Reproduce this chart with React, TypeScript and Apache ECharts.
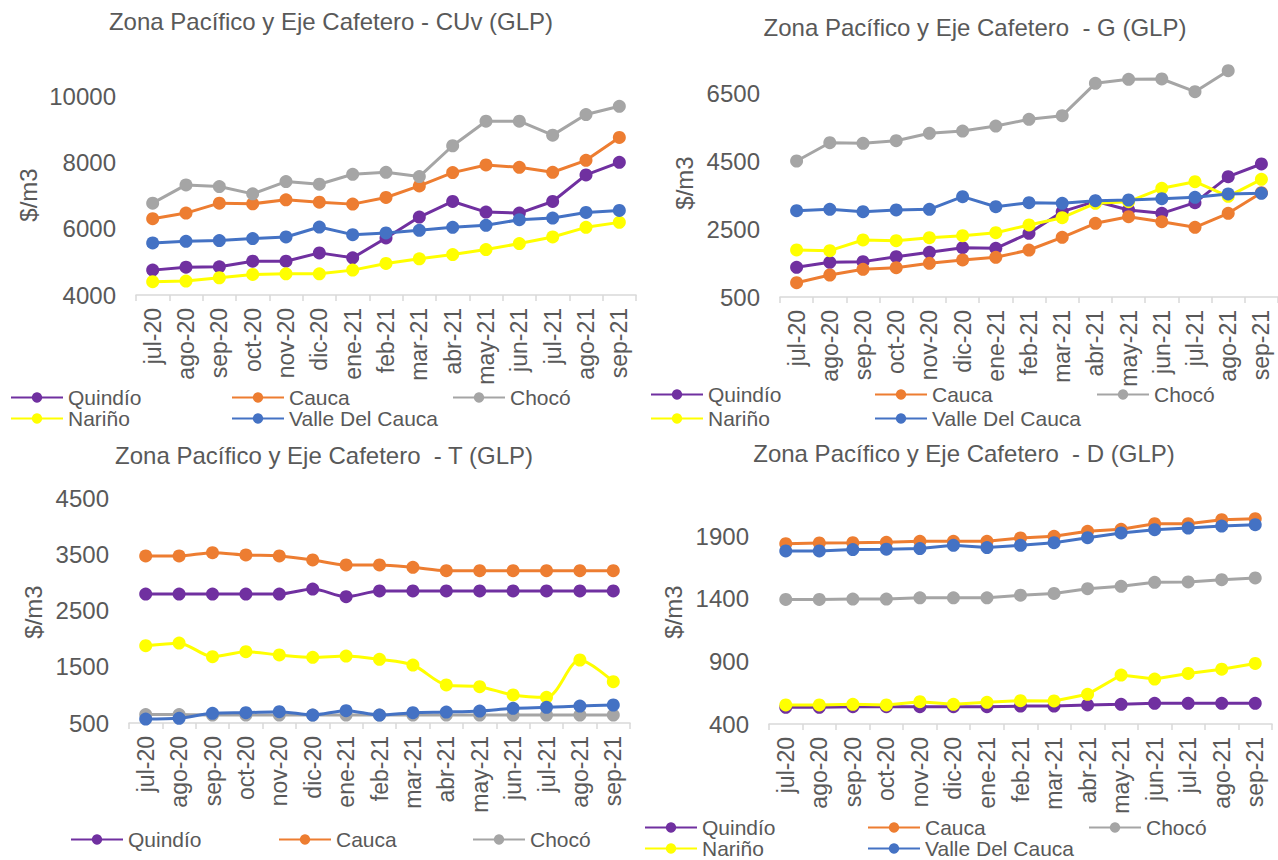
import React, { useEffect, useRef } from "react";
import * as echarts from "echarts";

const categories = ["jul-20", "ago-20", "sep-20", "oct-20", "nov-20", "dic-20", "ene-21", "feb-21", "mar-21", "abr-21", "may-21", "jun-21", "jul-21", "ago-21", "sep-21"];
const seriesNames = ["Quindío", "Cauca", "Chocó", "Nariño", "Valle Del Cauca"];
const seriesColors = ["#7030A0", "#ED7D31", "#A5A5A5", "#FFFF00", "#4472C4"];

// Panel 1: CUv
const cuvQuindio = [4750, 4840, 4850, 5020, 5020, 5270, 5120, 5720, 6350, 6820, 6500, 6470, 6820, 7620, 8000];
const cuvCauca = [6300, 6470, 6770, 6750, 6870, 6800, 6740, 6940, 7290, 7690, 7920, 7850, 7700, 8060, 8750];
const cuvChoco = [6770, 7320, 7270, 7050, 7420, 7340, 7640, 7700, 7570, 8500, 9240, 9240, 8820, 9440, 9690];
const cuvNarino = [4400, 4420, 4520, 4620, 4640, 4640, 4750, 4950, 5090, 5220, 5370, 5550, 5750, 6040, 6190];
const cuvValle = [5570, 5620, 5640, 5700, 5750, 6050, 5820, 5870, 5950, 6040, 6100, 6270, 6320, 6490, 6550];

// Panel 2: G
const gQuindio = [1373, 1520, 1540, 1686, 1814, 1951, 1932, 2374, 3010, 3314, 3059, 2961, 3274, 4040, 4412];
const gCauca = [921, 1147, 1314, 1363, 1491, 1589, 1668, 1882, 2256, 2667, 2862, 2715, 2550, 2961, 3569];
const gChoco = [4500, 5038, 5020, 5097, 5314, 5382, 5529, 5726, 5833, 6785, 6902, 6912, 6539, 7156, null];
const gNarino = [1883, 1863, 2177, 2157, 2245, 2304, 2392, 2618, 2833, 3255, 3304, 3696, 3892, 3461, 3961];
const gValle = [3039, 3079, 3010, 3059, 3079, 3451, 3156, 3274, 3255, 3333, 3353, 3392, 3432, 3530, 3550];

// Panel 3: T
const tQuindio = [2793, 2793, 2793, 2793, 2793, 2882, 2745, 2847, 2847, 2847, 2847, 2847, 2847, 2847, 2847];
const tCauca = [3469, 3469, 3528, 3487, 3469, 3398, 3309, 3309, 3268, 3208, 3208, 3208, 3208, 3208, 3208];
const tChoco = [650, 650, 642, 642, 642, 642, 642, 642, 642, 642, 642, 642, 642, 642, 642];
const tNarino = [1875, 1920, 1679, 1767, 1709, 1667, 1691, 1632, 1531, 1176, 1146, 998, 957, 1620, 1234];
const tValle = [571, 583, 672, 683, 701, 642, 719, 642, 683, 695, 713, 761, 779, 802, 820];

// Panel 4: D
const dQuindio = [533, 533, 538, 538, 538, 538, 538, 543, 543, 552, 557, 565, 565, 565, 565];
const dCauca = [1841, 1847, 1849, 1852, 1860, 1860, 1860, 1887, 1900, 1940, 1956, 2001, 2001, 2033, 2041];
const dChoco = [1395, 1395, 1398, 1398, 1408, 1408, 1408, 1429, 1443, 1481, 1500, 1532, 1535, 1553, 1567];
const dNarino = [552, 552, 557, 552, 578, 557, 573, 586, 584, 637, 791, 759, 804, 838, 884];
const dValle = [1783, 1783, 1794, 1797, 1802, 1828, 1810, 1828, 1849, 1889, 1927, 1953, 1966, 1982, 1993];

const panelTitles = [
  "Zona Pacífico y Eje Cafetero - CUv (GLP)",
  "Zona Pacífico y Eje Cafetero  - G (GLP)",
  "Zona Pacífico y Eje Cafetero  - T (GLP)",
  "Zona Pacífico y Eje Cafetero  - D (GLP)",
];
const yAxisName = "$/m3";
const yMins = [4000, 500, 500, 400];
const yMaxs = [10000, 7500, 4500, 2150];
const yIntervals = [2000, 2000, 1000, 500];

const panelData = [
  [cuvQuindio, cuvCauca, cuvChoco, cuvNarino, cuvValle],
  [gQuindio, gCauca, gChoco, gNarino, gValle],
  [tQuindio, tCauca, tChoco, tNarino, tValle],
  [dQuindio, dCauca, dChoco, dNarino, dValle],
];

const FONT = "'Liberation Sans', Arial, sans-serif";
const TEXT = "#595959";

const grids = [
  { left: 136, top: 96, width: 500, height: 199 },
  { left: 780, top: 59, width: 498, height: 238 },
  { left: 129, top: 498, width: 501, height: 225 },
  { left: 769, top: 505, width: 503, height: 219 },
];
const titlePos = [
  [331, 21],
  [975, 27],
  [324, 455],
  [964, 453],
];
const axisNamePos = [
  [28, 195],
  [684, 183],
  [33, 612],
  [673, 612],
];
// legend layouts: [seriesIndex, left, centerY]
const legendLayouts = [
  [[0, 10, 397], [1, 231, 397], [2, 452, 397], [3, 10, 418], [4, 231, 418]],
  [[0, 650, 394], [1, 874, 394], [2, 1096, 394], [3, 650, 418], [4, 874, 418]],
  [[0, 70, 839], [1, 278, 839], [2, 472, 839]],
  [[0, 644, 827], [1, 867, 827], [2, 1088, 827], [3, 644, 848], [4, 867, 848]],
];

export default function App() {
  const ref = useRef<HTMLDivElement>(null);
  useEffect(() => {
    if (!ref.current) return;
    const chart = echarts.init(ref.current, null, { renderer: "svg" });

    const xAxis = grids.map((_, i) => ({
      type: "category",
      gridIndex: i,
      data: categories,
      boundaryGap: true,
      axisLine: { show: true, lineStyle: { color: "#D9D9D9", width: 1.5 } },
      axisTick: { show: true, length: 6, interval: 0, lineStyle: { color: "#D9D9D9", width: 1.5 } },
      axisLabel: { interval: 0, rotate: 90, fontSize: 23, color: TEXT, fontFamily: FONT, margin: 13 },
      splitLine: { show: false },
    }));

    const yAxis = grids.map((_, i) => ({
      type: "value",
      gridIndex: i,
      min: yMins[i],
      max: yMaxs[i],
      interval: yIntervals[i],
      axisLine: { show: false },
      axisTick: { show: false },
      splitLine: { show: false },
      axisLabel: {
        fontSize: 24,
        color: TEXT,
        fontFamily: FONT,
        margin: 20,
        formatter: (v: number) => ((v - yMins[i]) % yIntervals[i] === 0 ? String(v) : ""),
      },
    }));

    const series: any[] = [];
    panelData.forEach((lines, p) => {
      lines.forEach((vals, s) => {
        series.push({
          type: "line",
          name: seriesNames[s],
          xAxisIndex: p,
          yAxisIndex: p,
          data: vals,
          symbol: "circle",
          symbolSize: 13,
          smooth: p === 2 ? 0.3 : false,
          connectNulls: false,
          color: seriesColors[s],
          itemStyle: { color: seriesColors[s] },
          lineStyle: { color: seriesColors[s], width: 3 },
          z: 2 + s,
        });
      });
    });

    const legend: any[] = [];
    legendLayouts.forEach((items) => {
      items.forEach(([si, left, cy]) => {
        legend.push({
          data: [seriesNames[si]],
          left,
          top: cy - 10,
          padding: 0,
          itemWidth: 52,
          itemHeight: 13,
          selectedMode: false,
          textStyle: { fontSize: 21, lineHeight: 19, color: TEXT, fontFamily: FONT },
        });
      });
    });

    const graphic: any[] = [];
    panelTitles.forEach((t, i) => {
      graphic.push({
        type: "text",
        x: titlePos[i][0],
        y: titlePos[i][1],
        style: { text: t, fontSize: 24, fontFamily: FONT, fill: TEXT, align: "center", verticalAlign: "middle" },
      });
      graphic.push({
        type: "text",
        x: axisNamePos[i][0],
        y: axisNamePos[i][1],
        rotation: Math.PI / 2,
        style: { text: yAxisName, fontSize: 24, fontFamily: FONT, fill: TEXT, align: "center", verticalAlign: "middle" },
      });
    });

    chart.setOption({
      animation: false,
      backgroundColor: "#FFFFFF",
      textStyle: { fontFamily: FONT },
      grid: grids.map((g) => ({ ...g, containLabel: false })),
      xAxis,
      yAxis,
      series,
      legend,
      graphic,
    });
    return () => chart.dispose();
  }, []);

  return (
    <div
      ref={ref}
      style={{ position: "fixed", left: 0, top: 0, width: 1278, height: 860, background: "#fff" }}
    />
  );
}
